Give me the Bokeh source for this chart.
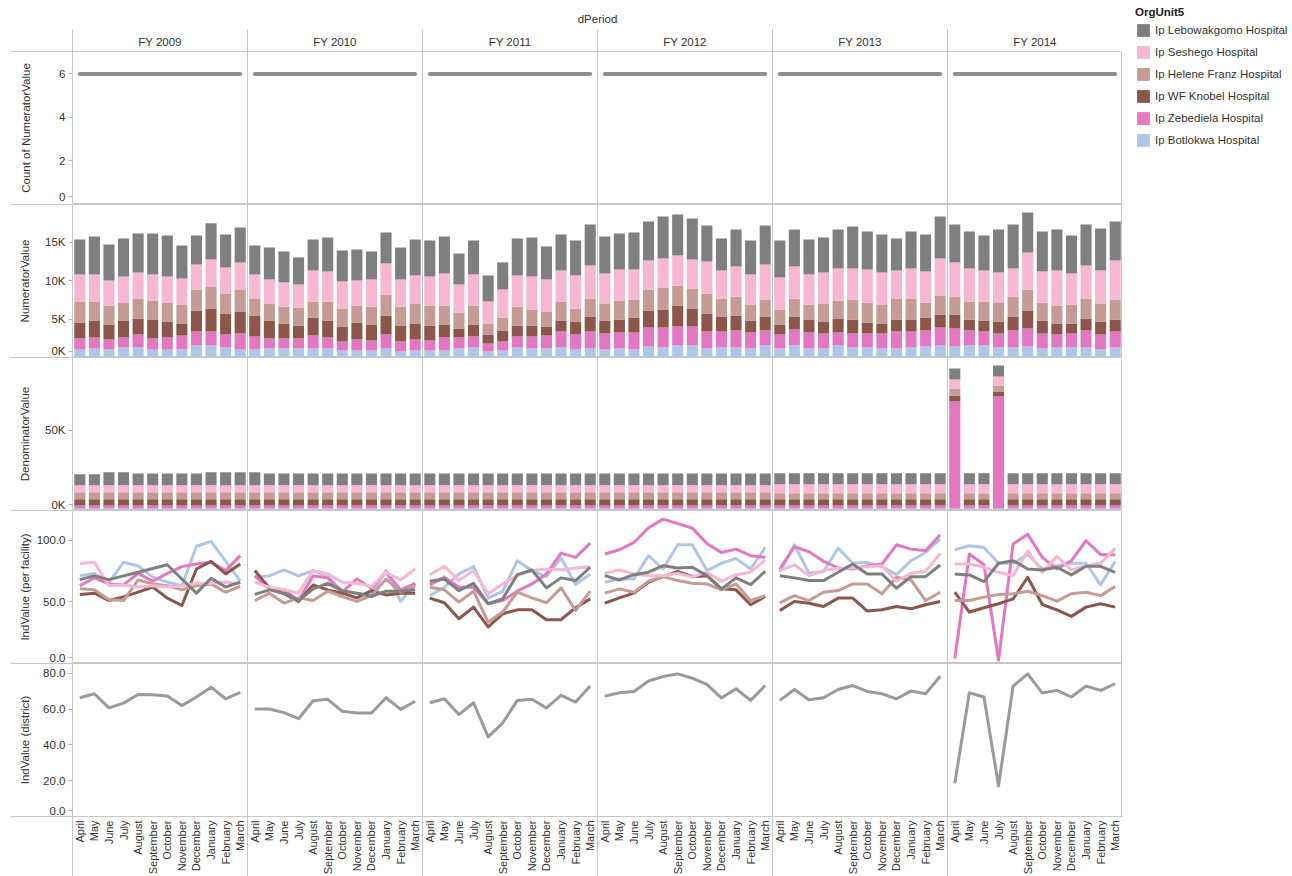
import math
from bokeh.plotting import figure
from bokeh.models import (Range1d, FixedTicker, Span, LinearAxis,
                          Legend, LegendItem, CustomJSTickFormatter, NumeralTickFormatter,
                          ColumnDataSource)
from bokeh.layouts import column, row
from bokeh.embed import file_html
from bokeh.resources import INLINE

FONT = "Liberation Sans"
TXT = "#333333"
RULE = "#c8c8c8"

fiscal_years = ["FY 2009", "FY 2010", "FY 2011", "FY 2012", "FY 2013", "FY 2014"]
months = ["April", "May", "June", "July", "August", "September", "October",
          "November", "December", "January", "February", "March"]
hospitals = ["Ip Lebowakgomo Hospital", "Ip Seshego Hospital", "Ip Helene Franz Hospital",
             "Ip WF Knobel Hospital", "Ip Zebediela Hospital", "Ip Botlokwa Hospital"]
colors = ["#7f7f7f", "#f7b6d2", "#c49c94", "#8c564b", "#e377c2", "#aec7e8"]

# Count of NumeratorValue (facilities reporting)
count_numerator = [6, 6, 6, 6, 6, 6, 6, 6, 6, 6, 6, 6,
                   6, 6, 6, 6, 6, 6, 6, 6, 6, 6, 6, 6,
                   6, 6, 6, 6, 6, 6, 6, 6, 6, 6, 6, 6,
                   6, 6, 6, 6, 6, 6, 6, 6, 6, 6, 6, 6,
                   6, 6, 6, 6, 6, 6, 6, 6, 6, 6, 6, 6,
                   6, 6, 6, 6, 6, 6, 6, 6, 6, 6, 6, 6]

# NumeratorValue (thousands)
num_lebowakgomo = [4.56, 4.95, 4.69, 4.95, 5.08, 5.34, 5.34, 4.30, 3.78, 4.69, 4.30, 4.56,
                   3.78, 4.17, 4.04, 3.52, 4.04, 4.43, 4.04, 4.04, 3.65, 4.04, 4.17, 4.69,
                   4.69, 4.82, 4.04, 4.43, 3.39, 3.52, 4.82, 5.08, 4.30, 4.69, 4.56, 5.34,
                   4.82, 4.69, 4.82, 5.08, 5.47, 5.34, 5.34, 4.69, 4.17, 4.82, 4.43, 5.08,
                   4.82, 4.82, 4.56, 4.56, 5.08, 5.47, 4.95, 4.95, 4.17, 4.82, 4.82, 5.47,
                   4.95, 4.82, 4.56, 5.60, 5.73, 5.21, 5.21, 5.34, 4.95, 5.34, 5.47, 5.08]
num_seshego = [3.52, 3.52, 3.26, 3.39, 3.39, 3.39, 3.39, 3.39, 3.26, 3.52, 3.39, 3.52,
               3.13, 3.13, 3.13, 3.00, 4.04, 3.91, 3.52, 3.26, 3.52, 4.04, 3.52, 3.65,
               3.78, 4.17, 3.65, 4.04, 2.86, 3.65, 4.04, 4.30, 4.17, 4.04, 4.30, 4.30,
               3.91, 4.04, 3.91, 3.78, 3.78, 3.91, 3.78, 4.17, 3.65, 3.91, 3.91, 4.56,
               4.17, 4.17, 3.91, 4.04, 4.17, 4.04, 4.30, 4.17, 3.65, 3.91, 4.04, 4.82,
               4.43, 4.30, 4.04, 3.91, 3.65, 4.82, 4.04, 4.56, 4.04, 4.30, 4.30, 5.08]
num_helene_franz = [2.73, 2.47, 2.47, 2.34, 2.60, 2.47, 2.47, 2.47, 2.73, 2.86, 2.60, 2.86,
                    2.21, 2.21, 2.21, 2.34, 2.08, 2.47, 2.34, 2.21, 2.34, 2.73, 2.47, 2.60,
                    2.60, 2.47, 2.08, 2.47, 1.43, 1.69, 2.47, 2.08, 1.95, 2.47, 1.69, 2.34,
                    2.21, 2.47, 2.34, 2.73, 2.86, 2.60, 2.60, 2.60, 2.34, 2.47, 2.08, 2.21,
                    1.95, 2.34, 1.95, 2.34, 2.34, 2.60, 2.60, 2.47, 2.73, 2.73, 1.95, 2.47,
                    2.34, 2.34, 2.47, 2.47, 2.60, 2.73, 2.34, 2.34, 2.47, 2.60, 2.34, 2.60]
num_wf_knobel = [2.08, 2.21, 1.95, 2.21, 2.08, 2.47, 2.08, 1.56, 2.73, 3.00, 2.73, 2.86,
                 2.73, 2.34, 1.95, 1.69, 2.34, 2.21, 1.95, 2.21, 2.08, 2.47, 2.08, 2.08,
                 1.95, 1.69, 1.17, 1.56, 1.17, 1.43, 1.43, 1.43, 1.17, 1.43, 1.69, 1.95,
                 1.69, 1.69, 1.95, 2.21, 2.34, 2.73, 2.34, 2.34, 1.95, 1.95, 1.56, 1.82,
                 1.30, 1.69, 1.69, 1.56, 1.82, 1.82, 1.43, 1.30, 1.56, 1.56, 1.69, 1.69,
                 1.82, 1.43, 1.43, 1.56, 1.82, 2.34, 1.69, 1.43, 1.30, 1.56, 1.69, 1.56]
num_zebediela = [1.43, 1.43, 1.30, 1.30, 1.69, 1.43, 1.56, 1.82, 1.82, 1.82, 1.69, 2.08,
                 1.69, 1.30, 1.30, 1.30, 1.69, 1.43, 1.17, 1.43, 1.30, 1.82, 1.30, 1.43,
                 1.30, 1.69, 1.43, 1.43, 1.04, 1.17, 1.43, 1.56, 1.69, 2.08, 1.95, 2.21,
                 2.08, 2.08, 2.21, 2.47, 2.60, 2.47, 2.47, 2.21, 2.08, 2.21, 2.08, 1.95,
                 1.82, 2.08, 2.08, 1.95, 1.69, 1.82, 1.82, 1.95, 2.21, 2.08, 2.08, 2.34,
                 2.34, 1.95, 1.82, 1.82, 2.21, 2.34, 1.95, 1.69, 1.82, 2.21, 1.95, 2.08]
num_botlokwa = [1.04, 1.17, 1.04, 1.30, 1.30, 1.04, 1.04, 1.04, 1.56, 1.56, 1.30, 1.04,
                1.04, 1.17, 1.17, 1.17, 1.17, 1.17, 0.91, 0.91, 0.91, 1.17, 0.78, 0.91,
                0.91, 0.91, 1.17, 1.30, 0.78, 0.91, 1.30, 1.17, 1.17, 1.30, 1.04, 1.17,
                1.04, 1.17, 1.04, 1.43, 1.30, 1.56, 1.56, 1.17, 1.30, 1.30, 1.17, 1.56,
                1.17, 1.56, 1.17, 1.17, 1.56, 1.30, 1.30, 1.17, 1.17, 1.30, 1.43, 1.56,
                1.43, 1.56, 1.56, 1.30, 1.30, 1.43, 1.17, 1.30, 1.30, 1.30, 1.04, 1.30]

# DenominatorValue (thousands)
den_lebowakgomo = [6.8, 6.8, 8.1, 8.1, 7.3, 7.3, 7.3, 7.3, 7.3, 8.1, 8.1, 8.1,
                   8.1, 7.3, 7.3, 7.3, 7.3, 7.3, 7.3, 7.3, 7.3, 7.3, 7.3, 7.3,
                   7.3, 7.3, 7.3, 7.3, 7.3, 7.3, 7.3, 7.3, 7.3, 7.3, 7.3, 7.3,
                   7.3, 7.3, 7.3, 7.3, 7.3, 7.3, 7.3, 7.3, 7.3, 7.3, 7.3, 7.3,
                   6.9, 6.9, 6.9, 6.9, 6.9, 6.9, 6.9, 6.9, 6.9, 6.9, 6.9, 6.9,
                   6.9, 6.9, 6.9, 6.9, 6.9, 6.9, 6.9, 6.9, 6.9, 6.9, 6.9, 6.9]
den_seshego = [4.4, 4.4, 4.4, 4.4, 4.4, 4.4, 4.4, 4.4, 4.4, 4.4, 4.4, 4.4,
               4.4, 4.4, 4.4, 4.4, 4.4, 4.4, 4.4, 4.4, 4.4, 4.4, 4.4, 4.4,
               4.4, 4.4, 4.4, 4.4, 4.4, 4.4, 4.4, 4.4, 4.4, 4.4, 4.4, 4.4,
               4.4, 4.4, 4.4, 4.4, 4.4, 4.4, 4.4, 4.4, 4.4, 4.4, 4.4, 4.4,
               5.6, 5.6, 5.6, 5.6, 5.6, 5.6, 5.6, 5.6, 5.6, 5.6, 5.6, 5.6,
               5.6, 5.6, 5.6, 5.6, 5.6, 5.6, 5.6, 5.6, 5.6, 5.6, 5.6, 5.6]
den_helene_franz = [4.4, 4.4, 4.4, 4.4, 4.4, 4.4, 4.4, 4.4, 4.4, 4.4, 4.4, 4.4,
                    4.4, 4.4, 4.4, 4.4, 4.4, 4.4, 4.4, 4.4, 4.4, 4.4, 4.4, 4.4,
                    4.4, 4.4, 4.4, 4.4, 4.4, 4.4, 4.4, 4.4, 4.4, 4.4, 4.4, 4.4,
                    4.4, 4.4, 4.4, 4.4, 4.4, 4.4, 4.4, 4.4, 4.4, 4.4, 4.4, 4.4,
                    3.75, 3.75, 3.75, 3.75, 3.75, 3.75, 3.75, 3.75, 3.75, 3.75, 3.75, 3.75,
                    4.4, 3.75, 3.75, 3.75, 3.75, 3.75, 3.75, 3.75, 3.75, 3.75, 3.75, 3.75]
den_wf_knobel = [3.8, 3.8, 3.8, 3.8, 3.8, 3.8, 3.8, 3.8, 3.8, 3.8, 3.8, 3.8,
                 3.8, 3.8, 3.8, 3.8, 3.8, 3.8, 3.8, 3.8, 3.8, 3.8, 3.8, 3.8,
                 3.8, 3.8, 3.8, 3.8, 3.8, 3.8, 3.8, 3.8, 3.8, 3.8, 3.8, 3.8,
                 3.8, 3.8, 3.8, 3.8, 3.8, 3.8, 3.8, 3.8, 3.8, 3.8, 3.8, 3.8,
                 3.8, 3.8, 3.8, 3.8, 3.8, 3.8, 3.8, 3.8, 3.8, 3.8, 3.8, 3.8,
                 3.8, 3.8, 3.8, 3.1, 3.8, 3.8, 3.8, 3.8, 3.8, 3.8, 3.8, 3.8]
den_zebediela = [1.9, 1.9, 1.9, 1.9, 1.9, 1.9, 1.9, 1.9, 1.9, 1.9, 1.9, 1.9,
                 1.9, 1.9, 1.9, 1.9, 1.9, 1.9, 1.9, 1.9, 1.9, 1.9, 1.9, 1.9,
                 1.9, 1.9, 1.9, 1.9, 1.9, 1.9, 1.9, 1.9, 1.9, 1.9, 1.9, 1.9,
                 1.9, 1.9, 1.9, 1.9, 1.9, 1.9, 1.9, 1.9, 1.9, 1.9, 1.9, 1.9,
                 1.9, 1.9, 1.9, 1.9, 1.9, 1.9, 1.9, 1.9, 1.9, 1.9, 1.9, 1.9,
                 66.8, 1.9, 1.9, 70.0, 1.9, 1.9, 1.9, 1.9, 1.9, 1.9, 1.9, 1.9]
den_botlokwa = [1.3, 1.3, 1.3, 1.3, 1.3, 1.3, 1.3, 1.3, 1.3, 1.3, 1.3, 1.3,
                1.3, 1.3, 1.3, 1.3, 1.3, 1.3, 1.3, 1.3, 1.3, 1.3, 1.3, 1.3,
                1.3, 1.3, 1.3, 1.3, 1.3, 1.3, 1.3, 1.3, 1.3, 1.3, 1.3, 1.3,
                1.3, 1.3, 1.3, 1.3, 1.3, 1.3, 1.3, 1.3, 1.3, 1.3, 1.3, 1.3,
                1.3, 1.3, 1.3, 1.3, 1.3, 1.3, 1.3, 1.3, 1.3, 1.3, 1.3, 1.3,
                1.3, 1.3, 1.3, 1.3, 1.3, 1.3, 1.3, 1.3, 1.3, 1.3, 1.3, 1.3]

# IndValue (per facility)
ind_lebowakgomo = [68, 71, 68, 71, 74, 77, 80, 68.5, 57, 69, 62, 66,
                   56, 59.7, 57, 51, 60.5, 65, 59, 57, 54.3, 58.6, 58.6, 59.7,
                   66.7, 68.5, 59, 65, 48.4, 52.4, 72, 75.8, 61.3, 69.4, 67.2, 78,
                   71.2, 67.7, 72, 74, 79.3, 77.4, 78, 71.2, 60.5, 69.4, 64, 74.7,
                   71.2, 69.4, 67.2, 67.2, 73.9, 80.6, 72.6, 72.6, 61, 70.4, 70.4, 79.8,
                   72.6, 71.8, 66.4, 81.2, 83.3, 76.6, 75.8, 78, 71.8, 78.8, 78.8, 73.9]
ind_seshego = [81, 82, 63, 63.7, 62, 63, 62, 63, 65, 65, 66, 64.5,
               65.9, 61.8, 60, 57, 75.3, 72.6, 65.9, 65, 62.4, 74, 67.7, 76.6,
               71.8, 78.8, 67.2, 75.3, 56.5, 64.5, 71.2, 75.3, 76.6, 76, 77.4, 78.5,
               73.1, 75.8, 72.6, 71.2, 71.2, 73.1, 70, 74, 66.7, 72, 74, 83.9,
               75.3, 80, 71.2, 75.3, 77.2, 77.4, 78.5, 79.3, 66.7, 73.1, 74.7, 89.2,
               80.6, 80.6, 78, 73.9, 71.2, 91.4, 73.9, 86.6, 75.8, 79.3, 81.2, 93.3]
ind_helene_franz = [60.5, 59.7, 51.6, 51, 67.7, 64.5, 63, 59.7, 63, 64.5, 57.8, 62.4,
                    51, 57, 49, 53.2, 51, 58.6, 54.3, 50.3, 55, 68.5, 57.8, 63,
                    61.8, 59.7, 49.7, 58.6, 33.6, 41.7, 57.8, 53.2, 49.2, 61.3, 43, 58.6,
                    57, 60.5, 57.8, 66.7, 70.4, 67.2, 65, 64.5, 59.7, 64.5, 51, 55,
                    49.2, 55, 51, 57.8, 59.1, 64.5, 64.5, 56.5, 69.9, 67.7, 51, 57.8,
                    51, 51, 53.8, 56, 56.5, 58.6, 55, 50.5, 56.5, 57.8, 55, 62.4]
ind_wf_knobel = [56, 57, 51, 54, 57.8, 62, 53, 47, 76.6, 82.8, 72.6, 80.6,
                 75.3, 61.3, 56.5, 50.3, 63.7, 59.7, 57, 53.2, 59, 55.6, 57, 57,
                 53, 49.2, 36.3, 45.7, 29.6, 40.3, 43.5, 43.5, 35.5, 35.5, 45.2, 52.4,
                 48.9, 53.2, 57, 65.9, 70.4, 74.7, 70.4, 71.2, 60.5, 59.7, 47.6, 54.3,
                 43, 50.3, 48.9, 46.2, 53, 53, 42.5, 43.5, 46.2, 44.4, 47.6, 50.3,
                 57.8, 41.7, 45.2, 48.4, 52.4, 69.9, 47.8, 43.5, 38.2, 45.7, 48.4, 45.7]
ind_zebediela = [63, 69.4, 64.5, 63.7, 73, 66.7, 73, 78.5, 80.6, 82, 75.3, 87.4,
                 71, 60.5, 59.7, 51, 71, 69.4, 57.8, 68.5, 61, 74, 59.7, 65,
                 63.7, 70, 61.8, 61.8, 48.4, 51, 58.6, 64.5, 72.6, 89.5, 86, 97.6,
                 88.7, 92.2, 98.1, 110, 117, 113.4, 109.7, 97.3, 90, 92.7, 87.4, 86,
                 76.6, 94.6, 90.6, 82.8, 77.4, 76.6, 79.3, 80.6, 96.2, 92.7, 91.4, 104.3,
                 4, 88.7, 80, 2.7, 96.8, 104.8, 86, 76.6, 83.3, 99.5, 88.2, 88.2]
ind_botlokwa = [71, 73, 66, 82, 79, 70, 66, 63, 95, 99, 83, 67,
                70, 71, 75.8, 71, 75.3, 70.4, 58.6, 57, 56, 75.3, 50.5, 64.5,
                55, 61.8, 72.6, 78.5, 53, 58.6, 83.3, 75.3, 70.4, 85.5, 64, 72.6,
                65.9, 68.5, 68.5, 87.4, 76.6, 96.2, 96.2, 75.3, 81.2, 85.2, 76.6, 94,
                73.9, 96.2, 73.1, 74.5, 93.5, 81.2, 82, 78.5, 72, 83.3, 90, 100.8,
                92.2, 95.4, 94, 81.2, 81.2, 88.2, 76.6, 79.3, 81.2, 81.2, 63.7, 82.8]

# IndValue (district)
ind_district = [66.3, 68.5, 60.6, 63.3, 68.1, 68, 67.2, 61.9, 66.7, 72.2, 65.7, 69.3,
                60, 60, 58, 54.6, 64.6, 65.4, 58.7, 57.8, 57.8, 66.3, 59.8, 64.3,
                63.5, 65.7, 56.9, 63.5, 44.4, 52.2, 64.8, 65.4, 60.6, 67.6, 63.9, 72.8,
                67.2, 69.1, 69.8, 75.6, 78.1, 79.6, 77.2, 73.7, 66.1, 71.3, 64.8, 73.1,
                64.8, 70.9, 65.2, 66.3, 70.9, 73.1, 69.8, 68.5, 65.7, 70, 68.5, 78.3,
                18.5, 69.1, 66.7, 17.2, 72.8, 79.6, 68.9, 70.4, 66.7, 72.8, 70.4, 74.1]

num_series = [num_lebowakgomo, num_seshego, num_helene_franz, num_wf_knobel, num_zebediela, num_botlokwa]
den_series = [den_lebowakgomo, den_seshego, den_helene_franz, den_wf_knobel, den_zebediela, den_botlokwa]
ind_series = [ind_lebowakgomo, ind_seshego, ind_helene_franz, ind_wf_knobel, ind_zebediela, ind_botlokwa]

NM = len(months)
NF = len(fiscal_years)
NS = NM * NF
# one x unit per (fiscal year, month) slot; a mark sits in the middle of its slot
slot = [j + 0.5 for j in range(NS)]
x_range = Range1d(0, NS)

keys = ["h%d" % i for i in range(6)]
num_src = ColumnDataSource(dict(x=slot, **{k: v for k, v in zip(keys, num_series)}))
den_src = ColumnDataSource(dict(x=slot, **{k: v for k, v in zip(keys, den_series)}))
stack_keys = keys[::-1]          # bottom: Botlokwa ... top: Lebowakgomo
stack_colors = colors[::-1]

panel_edges = [NM * k for k in range(NF + 1)]

LEFT_RULE = 62   # row separators continue this far into the left margin


def make_fig(y_end, ticks, zero_tick, zero_label, formatter, label, label_standoff, fh,
             min_top=0):
    p = figure(x_range=x_range, y_range=Range1d(0, y_end), frame_width=1050, frame_height=fh,
               output_backend="svg", toolbar_location=None, x_axis_location=None,
               min_border_left=72, min_border_right=0, min_border_top=min_top,
               min_border_bottom=0)
    p.grid.visible = False
    p.outline_line_color = RULE
    p.outline_line_width = 1
    ya = p.yaxis[0]
    ya.ticker = FixedTicker(ticks=[zero_tick] + ticks, minor_ticks=[0, y_end])
    ya.major_label_overrides = {zero_tick: zero_label}
    if formatter is not None:
        ya.formatter = formatter
    ya.axis_label = label
    ya.axis_label_standoff = label_standoff
    ya.axis_label_text_font = FONT
    ya.axis_label_text_font_size = "11.5px"
    ya.axis_label_text_font_style = "normal"
    ya.axis_label_text_color = TXT
    ya.major_label_text_font = FONT
    ya.major_label_text_font_size = "11.5px"
    ya.major_label_text_color = TXT
    ya.major_label_standoff = 7 - LEFT_RULE
    ya.major_tick_out = 4
    ya.major_tick_in = 0
    ya.major_tick_line_color = "#b4b4b4"
    ya.minor_tick_out = LEFT_RULE
    ya.minor_tick_in = 0
    ya.minor_tick_line_color = RULE
    ya.axis_line_color = None
    for k in panel_edges[1:-1]:
        p.add_layout(Span(location=k, dimension="height", line_color=RULE, line_width=1))
    return p


k_fmt = CustomJSTickFormatter(code="return tick.toFixed(0) + 'K';")
d_fmt = NumeralTickFormatter(format="0.0")

# Row 1: count of numerator value, with the dPeriod header above
p1 = make_fig(7.03, [2, 4, 6], 0.35, "0", None, "Count of NumeratorValue", 24, 153, min_top=51)
hdr = LinearAxis(axis_label="dPeriod")
fy_centres = [NM * k + NM / 2 for k in range(NF)]
hdr.ticker = FixedTicker(ticks=fy_centres, minor_ticks=panel_edges)
hdr.major_label_overrides = {c: fy for c, fy in zip(fy_centres, fiscal_years)}
hdr.major_label_text_font = FONT
hdr.major_label_text_font_size = "11.5px"
hdr.major_label_text_color = TXT
hdr.major_label_standoff = 4 - 22
hdr.major_tick_out = 0
hdr.major_tick_in = 0
hdr.major_tick_line_color = None
hdr.minor_tick_out = 22
hdr.minor_tick_in = 0
hdr.minor_tick_line_color = RULE
hdr.axis_line_color = None
hdr.axis_label_text_font = FONT
hdr.axis_label_text_font_size = "11.5px"
hdr.axis_label_text_font_style = "normal"
hdr.axis_label_text_color = TXT
hdr.axis_label_standoff = 8
p1.add_layout(hdr, "above")
for i in range(NF):
    sl = slice(NM * i, NM * i + NM)
    p1.line(x=slot[sl], y=count_numerator[sl], line_color="#8f8f8f", line_width=4,
            line_cap="round")

# Row 2: numerator stacked bars
p2 = make_fig(19.9, [5, 10, 15], 0.82, "0K", k_fmt, "NumeratorValue", 11, 153)
p2.vbar_stack(stack_keys, x="x", width=0.76, fill_color=stack_colors, line_color=None, source=num_src)

# Row 3: denominator stacked bars
p3 = make_fig(95.6, [50], 3.6, "0K", k_fmt, "DenominatorValue", 11, 153)
p3.vbar_stack(stack_keys, x="x", width=0.76, fill_color=stack_colors, line_color=None, source=den_src)

# Row 4: indicator per facility
p4 = make_fig(124, [50, 100], 4.8, "0.0", d_fmt, "IndValue (per facility)", 3, 153)
for vals, c in list(zip(ind_series, colors))[::-1]:
    for i in range(NF):
        sl = slice(NM * i, NM * i + NM)
        p4.line(x=slot[sl], y=vals[sl], line_color=c, line_width=3, line_join="round")

# Row 5: district indicator, month axis below
p5 = make_fig(85.4, [20, 40, 60, 80], 3.3, "0.0", d_fmt, "IndValue (district)", 9, 153)
for i in range(NF):
    sl = slice(NM * i, NM * i + NM)
    p5.line(x=slot[sl], y=ind_district[sl], line_color="#9a9a9a", line_width=3,
            line_join="round")
xa = LinearAxis()
xa.ticker = FixedTicker(ticks=slot, minor_ticks=panel_edges)
xa.major_label_overrides = {t: months[j % NM] for j, t in enumerate(slot)}
xa.major_label_orientation = math.pi / 2
xa.major_label_text_font = FONT
xa.major_label_text_font_size = "11px"
xa.major_label_text_color = TXT
xa.major_label_standoff = 4 - 62
xa.major_tick_out = 0
xa.major_tick_in = 0
xa.major_tick_line_color = None
xa.minor_tick_out = 62
xa.minor_tick_in = 0
xa.minor_tick_line_color = RULE
xa.axis_line_color = RULE
p5.add_layout(xa, "below")

# Legend panel
lf = figure(width=170, height=160, output_backend="svg", toolbar_location=None,
            x_axis_location=None, y_axis_location=None,
            x_range=Range1d(0, 1), y_range=Range1d(0, 1),
            min_border_left=13, min_border_right=0, min_border_top=6, min_border_bottom=0)
lf.grid.visible = False
lf.outline_line_color = None
items = []
for h, c in zip(hospitals, colors):
    r = lf.vbar(x=[5], top=[1], width=0.1, fill_color=c, line_color=None)
    items.append(LegendItem(label=h, renderers=[r]))
leg = Legend(items=items, location="top_left", title="OrgUnit5",
             title_text_font=FONT, title_text_font_size="11.5px", title_text_font_style="bold",
             title_text_color="#222222", title_standoff=4,
             label_text_font=FONT, label_text_font_size="11.5px", label_text_color=TXT,
             glyph_width=16, glyph_height=16, label_height=16, spacing=6, label_standoff=4,
             padding=0, margin=0, border_line_color=None, background_fill_alpha=0)
lf.add_layout(leg, "center")

layout = row(column(p1, p2, p3, p4, p5), lf)
open("out.html", "w").write(file_html(layout, INLINE))
